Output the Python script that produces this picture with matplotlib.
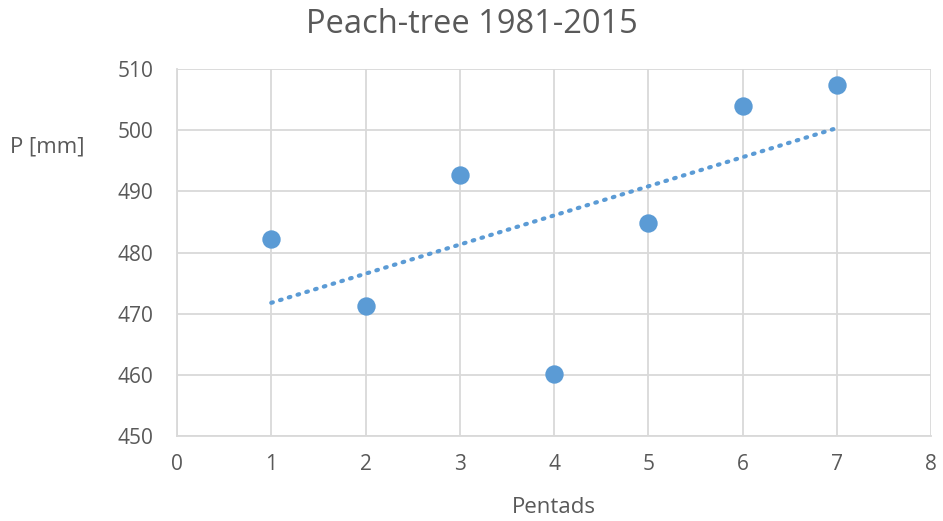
import numpy as np
import matplotlib.pyplot as plt

plt.rcParams['font.family'] = ['Open Sans', 'DejaVu Sans']

# Data
pentads = [1, 2, 3, 4, 5, 6, 7]
precip = [482.2, 471.2, 492.6, 460.2, 484.9, 503.9, 507.4]
x_ticks = [0, 1, 2, 3, 4, 5, 6, 7, 8]
y_ticks = [450, 460, 470, 480, 490, 500, 510]

blue = '#5B9BD5'
txt = '#595959'
grid = '#D9D9D9'

fig = plt.figure(figsize=(9.43, 5.21), dpi=100)
ax = fig.add_axes([0.1877, 0.1631, 0.7996, 0.7045])

# Linear trend line
k, b = np.polyfit(pentads, precip, 1)
xs = np.array([pentads[0], pentads[-1]])
ax.plot(xs, k * xs + b, color=blue, lw=3.0, linestyle=(0, (0.4, 1.8)),
        dash_capstyle='round', zorder=3)

ax.scatter(pentads, precip, s=175, color=blue, zorder=4, linewidths=0)

ax.set_xlim(0, 8)
ax.set_ylim(450, 510)
ax.set_xticks(x_ticks)
ax.set_yticks(y_ticks)
ax.grid(True, color=grid, lw=1.3)
ax.set_axisbelow(True)
for s in ['top', 'right']:
    ax.spines[s].set_visible(False)
for s in ['left', 'bottom']:
    ax.spines[s].set_color(grid)
    ax.spines[s].set_linewidth(1.3)
ax.tick_params(length=0, labelsize=15, colors=txt)
ax.tick_params(axis='x', pad=13)
ax.tick_params(axis='y', pad=17)

fig.suptitle('Peach-tree 1981-2015', fontsize=23.5, color=txt, x=0.5, y=0.985)
ax.set_xlabel('Pentads', fontsize=16, color=txt)
ax.xaxis.set_label_coords(0.5, -0.165)
ax.set_ylabel('P [mm]', fontsize=16, color=txt, rotation=0)
ax.yaxis.set_label_coords(-0.172, 0.76)

fig.savefig('out.png', dpi=100)
